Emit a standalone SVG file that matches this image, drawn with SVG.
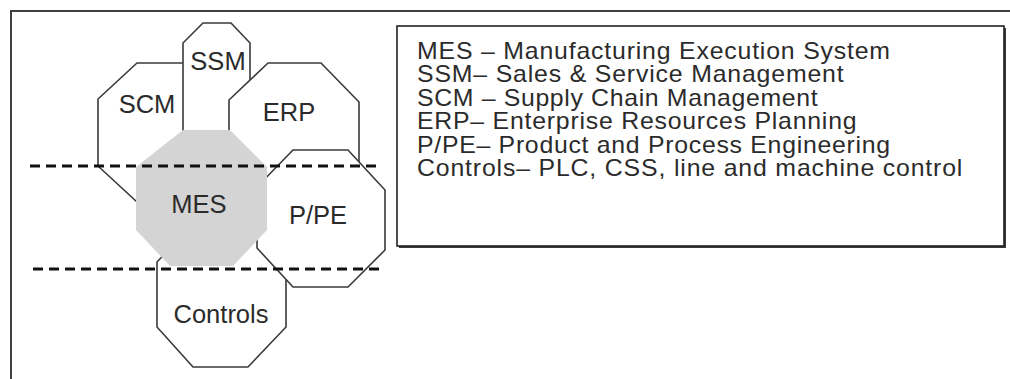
<svg xmlns="http://www.w3.org/2000/svg" width="1010" height="379" viewBox="0 0 1010 379">
<style>
.oct{fill:#ffffff;stroke:#3a3a3a;stroke-width:1.6;stroke-linejoin:miter}
.mes{fill:#d4d4d4;stroke:none}
.lbl{font-family:"Liberation Sans",Arial,sans-serif;font-size:25.5px;fill:#2b2b2b;text-anchor:middle}
.leg{font-family:"Liberation Sans",Arial,sans-serif;font-size:23px;fill:#2b2b2b}
.dash{stroke:#111;stroke-width:3;stroke-dasharray:10 6;fill:none}
</style>
<rect width="1010" height="379" fill="#ffffff"/>
<polyline points="11,379 11,11 1010,11" fill="none" stroke="#404040" stroke-width="2"/>
<g id="SCM"><polygon class="oct" points="137,63 190,63 228,99 228,166 190,202 137,202 98,166 98,99"/><text class="lbl" x="147" y="113">SCM</text></g>
<g id="SSM"><polygon class="oct" points="203,23 231,23 250,43 250,150 231,170 203,170 183,150 183,43"/><text class="lbl" x="218" y="70">SSM</text></g>
<g id="ERP"><polygon class="oct" points="268,63 321,63 359,102 359,165 321,200 266,200 229,165 229,100"/><text class="lbl" x="289" y="121">ERP</text></g>
<g id="Controls"><polygon class="oct" points="193,224 250,224 286,262 286,327 248,367 193,367 157,327 157,262"/><text class="lbl" x="221" y="323">Controls</text></g>
<g id="PPE"><polygon class="oct" points="293,150 348,150 385,190 385,250 348,287 293,287 257,248 257,187"/><text class="lbl" x="318" y="224">P/PE</text></g>
<g id="MES"><polygon class="mes" points="183,130 230,130 267,167 267,230 233,266 170,266 136,230 136,167"/><text class="lbl" x="199" y="213">MES</text></g>
<g id="separators">
<line class="dash" x1="30" y1="166" x2="377" y2="166"/>
<line class="dash" x1="33" y1="269" x2="381" y2="269"/>
</g>
<g id="legend">
<rect x="399" y="28" width="607" height="220" fill="#3a3a3a"/>
<rect x="397" y="26" width="607" height="220" fill="#ffffff" stroke="#222" stroke-width="1.6"/>
<g transform="translate(417,0) scale(1.08,1) translate(-417,0)">
<text class="leg" x="417" y="59" textLength="438" lengthAdjust="spacing">MES – Manufacturing Execution System</text>
<text class="leg" x="417" y="82.4" textLength="395" lengthAdjust="spacing">SSM– Sales &amp; Service Management</text>
<text class="leg" x="417" y="105.8" textLength="371" lengthAdjust="spacing">SCM – Supply Chain Management</text>
<text class="leg" x="417" y="129.2" textLength="407" lengthAdjust="spacing">ERP– Enterprise Resources Planning</text>
<text class="leg" x="417" y="152.6" textLength="438" lengthAdjust="spacing">P/PE– Product and Process Engineering</text>
<text class="leg" x="417" y="176" textLength="505" lengthAdjust="spacing">Controls– PLC, CSS, line and machine control</text>
</g>
</g>
</svg>
